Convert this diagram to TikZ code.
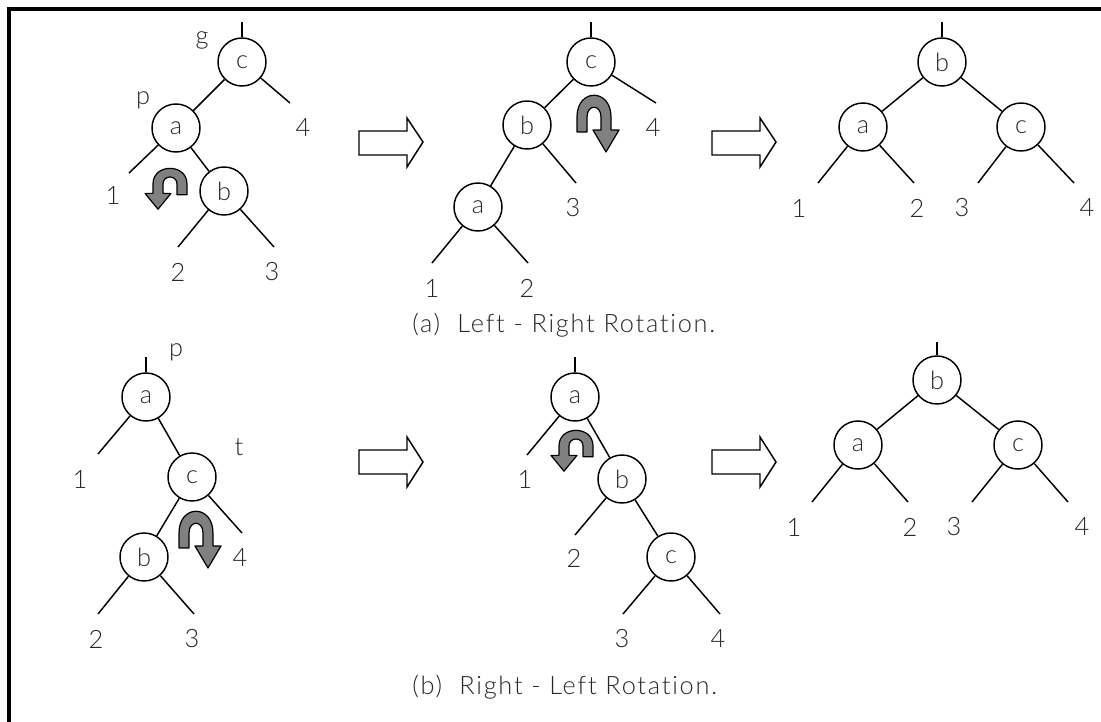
\documentclass[tikz,border=0pt]{standalone}
\usepackage{fontspec}
\setmainfont{Lato}[UprightFont={* Light}, Ligatures=NoCommon]
\usepackage{tikz}
\usepackage{xcolor}
\definecolor{txtGray}{RGB}{40, 40, 40}
\definecolor{rotGray}{RGB}{128, 128, 128}

\tikzset{
  vert/.style={draw, circle, line width=1.1pt, minimum size=36pt, inner sep=0pt, text=txtGray, font=\fontsize{19}{22}\selectfont},
  lbl/.style={text=txtGray, inner sep=0pt, font=\fontsize{19}{22}\selectfont},
  capt/.style={lbl, anchor=west, font=\fontsize{19}{22}\selectfont\addfontfeatures{LetterSpace=7}},
  link/.style={line width=1.1pt},
  fatarrow/.style={draw, line width=1.1pt, fill=white},
  rotarr/.pic={
    \draw[fill=rotGray, line width=0.9pt, line join=round]
      (-17,15) -- (-17,0) .. controls (-17,-29) and (17,-29) .. (17,0) -- (17,13)
      -- (25,13) -- (12,35) -- (-1,13) -- (7,13) -- (7,0)
      .. controls (7,-13) and (-7,-13) .. (-7,0) -- (-7,15) -- cycle;
  }
}

\begin{document}
\begin{tikzpicture}[x=0.75pt, y=-0.75pt]
\useasboundingbox (0,0) rectangle (1101,722);
% frame
\draw[line width=2.6pt] (9,722) -- (9,9) -- (1101,9);

% (a) first tree
\node[vert] (c1) at (242,62) {c};
\node[vert] (a1) at (176,128) {a};
\node[vert] (b1) at (224,191) {b};
\coordinate (s1) at (242,22);
\node[lbl] (g1) at (202,40) {g};
\node[lbl] (p1) at (143,100) {p};
\coordinate (e14) at (290,103);
\coordinate (e11) at (129,173);
\coordinate (e12) at (178,247);
\coordinate (e13) at (274,247);
\node[lbl] (l14) at (303,128) {4};
\node[lbl] (l11) at (113,195) {1};
\node[lbl] (l12) at (178,272) {2};
\node[lbl] (l13) at (272,272) {3};
\draw[link] (c1) -- (s1);
\draw[link] (c1) -- (a1);
\draw[link] (c1) -- (e14);
\draw[link] (a1) -- (b1);
\draw[link] (a1) -- (e11);
\draw[link] (b1) -- (e12);
\draw[link] (b1) -- (e13);
\pic[xscale=-1, yscale=0.72] at (170,184) {rotarr};

\draw[fatarrow] (359,131) -- (407,131) -- (407,118) -- (423,142) -- (407,167) -- (407,155) -- (359,155) -- cycle;

% (a) second tree
\node[vert] (c2) at (591,62) {c};
\node[vert] (b2) at (527,125) {b};
\node[vert] (a2) at (478,207) {a};
\coordinate (s2) at (591,22);
\coordinate (e24) at (656,103);
\coordinate (e23) at (576,183);
\coordinate (e21) at (432,263);
\coordinate (e22) at (528,263);
\node[lbl] (l24) at (653,128) {4};
\node[lbl] (l23) at (573,208) {3};
\node[lbl] (l21) at (432,288) {1};
\node[lbl] (l22) at (527,288) {2};
\draw[link] (c2) -- (s2);
\draw[link] (c2) -- (b2);
\draw[link] (c2) -- (e24);
\draw[link] (b2) -- (a2);
\draw[link] (b2) -- (e23);
\draw[link] (a2) -- (e21);
\draw[link] (a2) -- (e22);
\pic at (594,117) {rotarr};

\draw[fatarrow] (712,131) -- (760,131) -- (760,118) -- (776,142) -- (760,167) -- (760,155) -- (712,155) -- cycle;

% (a) result
\node[vert] (b3) at (942,62) {b};
\node[vert] (a3) at (863,127) {a};
\node[vert] (c3) at (1021,127) {c};
\coordinate (s3) at (942,22);
\coordinate (e31) at (818,183);
\coordinate (e32) at (914,183);
\coordinate (e33) at (978,183);
\coordinate (e34) at (1074,183);
\node[lbl] (l31) at (799,208) {1};
\node[lbl] (l32) at (917,208) {2};
\node[lbl] (l33) at (962,208) {3};
\node[lbl] (l34) at (1087,208) {4};
\draw[link] (b3) -- (s3);
\draw[link] (b3) -- (a3);
\draw[link] (b3) -- (c3);
\draw[link] (a3) -- (e31);
\draw[link] (a3) -- (e32);
\draw[link] (c3) -- (e33);
\draw[link] (c3) -- (e34);

\node[capt] (capa) at (412,325) {(a)\ \ Left - Right Rotation.};

% (b) first tree
\node[vert] (a4) at (146,397) {a};
\node[vert] (c4) at (192,477) {c};
\node[vert] (b4) at (144,557) {b};
\coordinate (s4) at (146,357);
\node[lbl] (p4) at (176,352) {p};
\node[lbl] (t4) at (239,447) {t};
\coordinate (e41) at (98,454);
\coordinate (e44) at (242,533);
\coordinate (e42) at (98,614);
\coordinate (e43) at (194,614);
\node[lbl] (l41) at (80,479) {1};
\node[lbl] (l44) at (240,558) {4};
\node[lbl] (l42) at (96,639) {2};
\node[lbl] (l43) at (192,639) {3};
\draw[link] (a4) -- (s4);
\draw[link] (a4) -- (e41);
\draw[link] (a4) -- (c4);
\draw[link] (c4) -- (b4);
\draw[link] (c4) -- (e44);
\draw[link] (b4) -- (e42);
\draw[link] (b4) -- (e43);
\pic at (196,533) {rotarr};

\draw[fatarrow] (359,450) -- (407,450) -- (407,437) -- (423,462) -- (407,487) -- (407,474) -- (359,474) -- cycle;

% (b) second tree
\node[vert] (a5) at (575,397) {a};
\node[vert] (b5) at (622,479) {b};
\node[vert] (c5) at (671,557) {c};
\coordinate (s5) at (575,357);
\coordinate (e51) at (527,455);
\coordinate (e52) at (575,535);
\coordinate (e53) at (623,614);
\coordinate (e54) at (720,614);
\node[lbl] (l51) at (525,479) {1};
\node[lbl] (l52) at (574,558) {2};
\node[lbl] (l53) at (622,639) {3};
\node[lbl] (l54) at (718,639) {4};
\draw[link] (a5) -- (s5);
\draw[link] (a5) -- (e51);
\draw[link] (a5) -- (b5);
\draw[link] (b5) -- (e52);
\draw[link] (b5) -- (c5);
\draw[link] (c5) -- (e53);
\draw[link] (c5) -- (e54);
\pic[xscale=-1, yscale=0.72] at (576,446) {rotarr};

\draw[fatarrow] (712,450) -- (760,450) -- (760,437) -- (776,462) -- (760,487) -- (760,474) -- (712,474) -- cycle;

% (b) result
\node[vert] (b6) at (937,380) {b};
\node[vert] (a6) at (858,445) {a};
\node[vert] (c6) at (1018,445) {c};
\coordinate (s6) at (937,342);
\coordinate (e61) at (812,502);
\coordinate (e62) at (908,502);
\coordinate (e63) at (972,502);
\coordinate (e64) at (1068,502);
\node[lbl] (l61) at (794,527) {1};
\node[lbl] (l62) at (910,527) {2};
\node[lbl] (l63) at (954,527) {3};
\node[lbl] (l64) at (1082,527) {4};
\draw[link] (b6) -- (s6);
\draw[link] (b6) -- (a6);
\draw[link] (b6) -- (c6);
\draw[link] (a6) -- (e61);
\draw[link] (a6) -- (e62);
\draw[link] (c6) -- (e63);
\draw[link] (c6) -- (e64);

\node[capt] (capb) at (412,687) {(b)\ \ Right - Left Rotation.};
\end{tikzpicture}
\end{document}
